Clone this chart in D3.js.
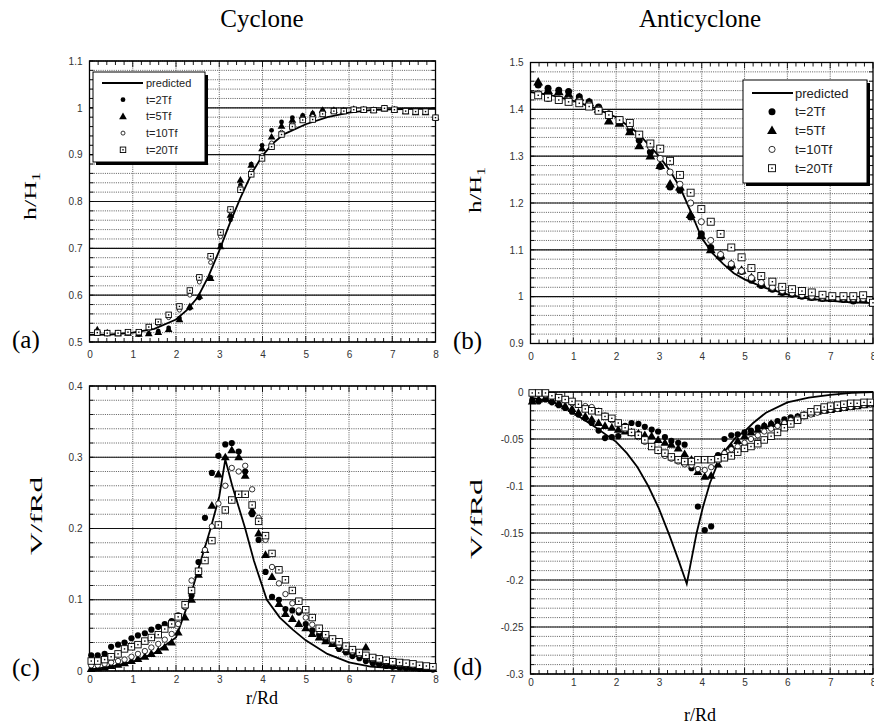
<!DOCTYPE html>
<html>
<head>
<meta charset="utf-8">
<script src="https://cdnjs.cloudflare.com/ajax/libs/d3/7.8.5/d3.min.js"></script>
<style>
  body { margin: 0; background: #fff; }
  svg { display: block; }
</style>
</head>
<body>
<svg id="fig" width="874" height="724"></svg>
<script>
// ---- data ----
var legendNames = ['t=2Tf', 't=5Tf', 't=10Tf', 't=20Tf'];

// radial stations used for the h/H1 panels
var radiusA = [0.18,0.41,0.66,0.89,1.14,1.37,1.59,1.83,2.08,2.32,2.54,2.8,3.03,3.26,3.49,3.74,3.99,4.21,4.44,4.69,4.93,5.16,5.39,5.65,5.88,6.11,6.34,6.57,6.82,7.05,7.31,7.54,7.77,8.0];
// radial stations used for the V/fRd panels
var radiusC = [0.04,0.19,0.35,0.5,0.66,0.81,0.97,1.12,1.28,1.43,1.59,1.74,1.9,2.05,2.21,2.36,2.52,2.67,2.83,2.98,3.14,3.29,3.45,3.6,3.76,3.91,4.07,4.22,4.38,4.53,4.69,4.84,5.0,5.15,5.31,5.46,5.62,5.77,5.93,6.08,6.24,6.39,6.55,6.7,6.86,7.01,7.17,7.32,7.48,7.63,7.79,7.94];

// (a) cyclone, h/H1
var predA_r = [0,0.5,1,1.5,2,2.25,2.5,2.75,3,3.25,3.5,3.75,4,4.25,4.5,5,5.5,6,6.5,7,7.5,8];
var predA_h = [0.515,0.516,0.52,0.528,0.548,0.568,0.595,0.64,0.695,0.755,0.81,0.86,0.898,0.925,0.944,0.965,0.98,0.99,0.995,0.997,0.998,0.998];
var hA2  = [0.518,0.517,0.518,0.519,0.516,0.518,0.523,0.53,0.551,0.572,0.594,0.638,0.707,0.761,0.835,0.88,0.92,0.952,0.97,0.979,0.984,0.988,0.995,0.995,0.994,0.997,0.996,0.995,0.998,0.996,0.992,0.99,0.991,0.98];
var hA5  = [0.526,0.52,0.518,0.519,0.517,0.518,0.521,0.527,0.548,0.576,0.598,0.636,0.704,0.771,0.846,0.878,0.913,0.938,0.961,0.974,0.982,0.988,0.995,0.995,0.994,0.997,0.996,0.995,0.998,0.996,0.992,0.99,0.99,0.98];
var hA10 = [0.519,0.518,0.518,0.52,0.52,0.528,0.538,0.552,0.568,0.6,0.628,0.67,0.725,0.778,0.83,0.865,0.898,0.925,0.948,0.965,0.977,0.982,0.99,0.994,0.994,0.997,0.997,0.996,0.999,0.996,0.993,0.99,0.99,0.978];
var hA20 = [0.52,0.519,0.519,0.521,0.521,0.532,0.543,0.558,0.576,0.61,0.638,0.683,0.734,0.783,0.825,0.858,0.892,0.917,0.943,0.96,0.974,0.975,0.987,0.993,0.993,0.996,0.996,0.995,0.999,0.996,0.993,0.992,0.992,0.979];

// (b) anticyclone, h/H1
var predB_r = [0,0.5,1,1.5,2,2.5,3,3.25,3.5,3.75,4,4.25,4.5,4.75,5,5.5,6,6.5,7,7.5,8];
var predB_h = [1.437,1.43,1.418,1.403,1.383,1.35,1.3,1.27,1.232,1.18,1.125,1.093,1.07,1.05,1.037,1.018,1.005,0.996,0.991,0.988,0.986];
var hB2  = [1.452,1.445,1.441,1.438,1.427,1.416,1.405,1.39,1.376,1.357,1.334,1.309,1.278,1.234,1.227,1.17,1.134,1.105,1.084,1.064,1.054,1.035,1.024,1.016,1.009,1.005,1.001,0.998,0.996,0.996,0.994,0.991,0.994,0.987];
var hB5  = [1.458,1.44,1.437,1.432,1.425,1.414,1.4,1.375,1.37,1.352,1.322,1.3,1.28,1.24,1.234,1.175,1.13,1.1,1.088,1.069,1.056,1.04,1.028,1.018,1.01,1.006,1.002,0.999,0.997,0.996,0.995,0.993,0.994,0.988];
var hB10 = [1.434,1.423,1.423,1.42,1.418,1.41,1.4,1.39,1.378,1.365,1.345,1.32,1.295,1.266,1.24,1.2,1.16,1.12,1.09,1.07,1.055,1.04,1.03,1.02,1.013,1.008,1.004,1.001,0.999,0.998,0.997,0.996,0.996,0.988];
var hB20 = [1.43,1.425,1.42,1.416,1.413,1.406,1.397,1.388,1.377,1.371,1.346,1.327,1.316,1.29,1.26,1.222,1.187,1.16,1.134,1.105,1.084,1.061,1.044,1.032,1.021,1.016,1.012,1.009,1.004,1.001,1.001,1.001,1.003,0.987];

// (c) cyclone, V/fRd
var predC_r = [0,0.5,1,1.5,2,2.3,2.5,2.8,3.0,3.14,3.3,3.6,3.8,4.1,4.4,4.7,5.0,5.5,6.0,6.5,7,7.5,8];
var predC_v = [0.002,0.006,0.013,0.025,0.047,0.098,0.14,0.2,0.245,0.297,0.26,0.2,0.155,0.1,0.075,0.058,0.043,0.024,0.012,0.006,0.004,0.003,0.002];
var vC2  = [0.022,0.022,0.024,0.034,0.037,0.04,0.046,0.05,0.053,0.058,0.062,0.066,0.07,0.078,0.09,0.106,0.153,0.215,0.278,0.302,0.318,0.32,0.308,0.28,0.22,0.184,0.139,0.104,0.1,0.087,0.085,0.082,0.066,0.057,0.051,0.043,0.038,0.031,0.026,0.021,0.018,0.014,0.011,0.009,0.007,0.006,0.005,0.004,0.004,0.003,0.003,0.002];
var vC5  = [0.003,0.004,0.005,0.007,0.009,0.011,0.014,0.017,0.02,0.024,0.028,0.033,0.04,0.054,0.075,0.1,0.135,0.17,0.232,0.276,0.3,0.31,0.3,0.274,0.225,0.193,0.163,0.132,0.094,0.08,0.073,0.066,0.06,0.052,0.047,0.042,0.038,0.035,0.03,0.027,0.024,0.033,0.016,0.012,0.01,0.008,0.007,0.006,0.005,0.004,0.003,0.003];
var vC10 = [0.008,0.008,0.01,0.012,0.014,0.016,0.02,0.024,0.028,0.033,0.038,0.044,0.052,0.066,0.09,0.127,0.14,0.17,0.203,0.235,0.26,0.285,0.28,0.288,0.255,0.215,0.184,0.146,0.123,0.108,0.095,0.085,0.075,0.065,0.056,0.048,0.042,0.036,0.031,0.027,0.023,0.02,0.017,0.015,0.013,0.011,0.01,0.009,0.008,0.007,0.006,0.005];
var vC20 = [0.014,0.014,0.016,0.02,0.024,0.031,0.034,0.037,0.042,0.047,0.051,0.059,0.066,0.076,0.093,0.113,0.14,0.155,0.183,0.205,0.226,0.24,0.248,0.248,0.233,0.21,0.19,0.165,0.142,0.128,0.113,0.098,0.086,0.075,0.06,0.051,0.045,0.041,0.035,0.03,0.026,0.022,0.019,0.017,0.015,0.013,0.012,0.011,0.01,0.008,0.007,0.006];

// (d) anticyclone, V/fRd
var predD_r = [0,0.5,1,1.5,2,2.25,2.5,2.75,3,3.25,3.45,3.65,3.76,3.88,4.03,4.19,4.38,4.57,4.8,5.0,5.2,5.5,6.0,6.5,7.0,7.5,8];
var predD_v = [-0.006,-0.01,-0.022,-0.037,-0.053,-0.065,-0.08,-0.1,-0.124,-0.153,-0.178,-0.204,-0.178,-0.15,-0.122,-0.097,-0.075,-0.061,-0.048,-0.042,-0.033,-0.022,-0.011,-0.006,-0.003,-0.001,0];
var vD2  = [-0.009,-0.01,-0.008,-0.011,-0.014,-0.017,-0.021,-0.024,-0.028,-0.033,-0.041,-0.049,-0.048,-0.047,-0.036,-0.033,-0.034,-0.037,-0.04,-0.042,-0.048,-0.052,-0.054,-0.056,-0.081,-0.122,-0.147,-0.143,-0.067,-0.05,-0.046,-0.045,-0.043,-0.041,-0.038,-0.036,-0.034,-0.031,-0.029,-0.027,-0.026,-0.024,-0.022,-0.02,-0.018,-0.018,-0.017,-0.016,-0.015,-0.014,-0.013,-0.013];
var vD5  = [-0.01,-0.008,-0.007,-0.009,-0.012,-0.015,-0.018,-0.022,-0.026,-0.029,-0.033,-0.036,-0.038,-0.04,-0.042,-0.043,-0.044,-0.046,-0.047,-0.051,-0.054,-0.056,-0.06,-0.066,-0.072,-0.085,-0.09,-0.089,-0.077,-0.064,-0.058,-0.052,-0.047,-0.043,-0.04,-0.036,-0.034,-0.033,-0.031,-0.029,-0.027,-0.025,-0.023,-0.021,-0.02,-0.019,-0.018,-0.017,-0.016,-0.015,-0.014,-0.013];
var vD10 = [-0.002,-0.002,-0.003,-0.005,-0.007,-0.009,-0.012,-0.014,-0.015,-0.016,-0.02,-0.025,-0.03,-0.034,-0.04,-0.044,-0.048,-0.053,-0.058,-0.063,-0.068,-0.071,-0.074,-0.077,-0.078,-0.082,-0.083,-0.08,-0.073,-0.065,-0.061,-0.058,-0.054,-0.05,-0.046,-0.042,-0.039,-0.036,-0.033,-0.03,-0.028,-0.026,-0.024,-0.022,-0.02,-0.019,-0.018,-0.017,-0.016,-0.015,-0.014,-0.013];
var vD20 = [-0.001,-0.001,-0.001,-0.004,-0.006,-0.008,-0.01,-0.013,-0.018,-0.02,-0.021,-0.026,-0.028,-0.033,-0.038,-0.043,-0.046,-0.051,-0.058,-0.062,-0.065,-0.069,-0.072,-0.074,-0.074,-0.072,-0.072,-0.072,-0.071,-0.07,-0.068,-0.064,-0.06,-0.058,-0.055,-0.051,-0.047,-0.043,-0.038,-0.034,-0.03,-0.025,-0.021,-0.018,-0.016,-0.015,-0.014,-0.013,-0.012,-0.012,-0.011,-0.011];

// tick labels
var xTicks = [0,1,2,3,4,5,6,7,8];
var yTicksA = [0.5,0.6,0.7,0.8,0.9,1,1.1];
var yTicksB = [0.9,1,1.1,1.2,1.3,1.4,1.5];
var yTicksC = [0,0.1,0.2,0.3,0.4];
var yTicksD = [-0.3,-0.25,-0.2,-0.15,-0.1,-0.05,0];

var svg = d3.select('#fig');
var serif = "'Liberation Serif', 'DejaVu Serif', serif";
var sans = "'Liberation Sans', Arial, sans-serif";

function fmt(d) { return String(+d.toFixed(2)); }

function steps(lo, hi, step) {
    var n = Math.round((hi - lo) / step);
    return d3.range(n + 1).map(function(i) { return +(lo + i * step).toFixed(4); });
}

function marker(g, kind, cx, cy, s) {
    if (kind === 'dot') {
        g.append('circle').attr('cx', cx).attr('cy', cy).attr('r', s.r).attr('fill', '#000');
    } else if (kind === 'ring') {
        g.append('circle').attr('cx', cx).attr('cy', cy).attr('r', s.r - 0.4)
            .attr('fill', '#fff').attr('stroke', '#000').attr('stroke-width', 0.8);
    } else if (kind === 'tri') {
        g.append('path').attr('d', d3.symbol(d3.symbolTriangle, s.tri)())
            .attr('transform', 'translate(' + cx + ',' + (cy + 0.5) + ')').attr('fill', '#000');
    } else {
        var h = s.box / 2;
        g.append('rect').attr('x', cx - h).attr('y', cy - h).attr('width', s.box).attr('height', s.box)
            .attr('fill', '#fff').attr('stroke', '#000').attr('stroke-width', 0.9);
        g.append('rect').attr('x', cx - 0.7).attr('y', cy - 0.7).attr('width', 1.4).attr('height', 1.4).attr('fill', '#000');
    }
}

function drawPanel(p) {
    var g = svg.append('g');
    var x = d3.scaleLinear().domain([0, 8]).range([p.left, p.right]);
    var y = d3.scaleLinear().domain(p.yDomain).range([p.bottom, p.top]);

    // dotted minor horizontals and integer verticals
    var grid = g.append('g').attr('stroke', '#333').attr('stroke-width', 0.8).attr('stroke-dasharray', '1,1.2');
    grid.selectAll('line.h').data(steps(p.yDomain[0], p.yDomain[1], p.minor)).enter().append('line')
        .attr('x1', p.left).attr('x2', p.right).attr('y1', function(d) { return y(d); }).attr('y2', function(d) { return y(d); });
    grid.selectAll('line.v').data(xTicks.slice(1, 8)).enter().append('line')
        .attr('y1', p.top).attr('y2', p.bottom).attr('x1', function(d) { return x(d); }).attr('x2', function(d) { return x(d); });
    // solid major horizontals
    g.append('g').selectAll('line').data(p.yTicks).enter().append('line')
        .attr('x1', p.left).attr('x2', p.right).attr('y1', function(d) { return y(d); }).attr('y2', function(d) { return y(d); })
        .attr('stroke', '#111').attr('stroke-width', 1.1);

    // inner tick marks
    var minorX = steps(0, 8, 0.2);
    var tk = g.append('g').attr('stroke', '#000').attr('stroke-width', 0.9);
    tk.selectAll('line.b').data(minorX).enter().append('line')
        .attr('x1', function(d) { return x(d); }).attr('x2', function(d) { return x(d); })
        .attr('y1', p.bottom).attr('y2', function(d) { return p.bottom - (Number.isInteger(d) ? 6 : 4); });
    tk.selectAll('line.t').data(minorX).enter().append('line')
        .attr('x1', function(d) { return x(d); }).attr('x2', function(d) { return x(d); })
        .attr('y1', p.top).attr('y2', function(d) { return p.top + (Number.isInteger(d) ? 6 : 4); });
    var minorY = steps(p.yDomain[0], p.yDomain[1], p.minor);
    tk.selectAll('line.l').data(minorY).enter().append('line')
        .attr('y1', function(d) { return y(d); }).attr('y2', function(d) { return y(d); })
        .attr('x1', p.left).attr('x2', p.left + 4);
    tk.selectAll('line.r').data(minorY).enter().append('line')
        .attr('y1', function(d) { return y(d); }).attr('y2', function(d) { return y(d); })
        .attr('x1', p.right).attr('x2', p.right - 4);

    g.append('rect').attr('x', p.left).attr('y', p.top)
        .attr('width', p.right - p.left).attr('height', p.bottom - p.top)
        .attr('fill', 'none').attr('stroke', '#000').attr('stroke-width', 1.3);

    // axes (labels only)
    var ax = g.append('g').attr('transform', 'translate(0,' + p.bottom + ')')
        .call(d3.axisBottom(x).tickValues(xTicks).tickSize(0).tickPadding(p.xPad).tickFormat(fmt));
    var ay = g.append('g').attr('transform', 'translate(' + p.left + ',0)')
        .call(d3.axisLeft(y).tickValues(p.yTicks).tickSize(0).tickPadding(7).tickFormat(fmt));
    [ax, ay].forEach(function(a) {
        a.select('.domain').remove();
        a.attr('font-family', sans).attr('font-size', 10);
        a.selectAll('text').attr('fill', '#333');
    });

    // predicted curve
    var line = d3.line().x(function(d) { return x(d[0]); }).y(function(d) { return y(d[1]); });
    g.append('path').datum(d3.zip(p.predR, p.predV)).attr('d', line)
        .attr('fill', 'none').attr('stroke', '#000').attr('stroke-width', 1.8);

    // measured series
    var kinds = ['dot', 'tri', 'ring', 'box'];
    p.series.forEach(function(vals, k) {
        var sg = g.append('g');
        vals.forEach(function(v, i) { marker(sg, kinds[k], x(p.radius[i]), y(v), p.mk); });
    });

    // legend
    if (p.legend) {
        var L = p.legend;
        var lg = g.append('g');
        lg.append('rect').attr('x', L.x + 3).attr('y', L.y + 3).attr('width', L.w).attr('height', L.h).attr('fill', '#000');
        lg.append('rect').attr('x', L.x).attr('y', L.y).attr('width', L.w).attr('height', L.h)
            .attr('fill', '#fff').attr('stroke', '#000').attr('stroke-width', 1);
        var rows = ['predicted'].concat(legendNames);
        rows.forEach(function(name, i) {
            var cy = L.y0 + i * L.dy;
            if (i === 0) {
                lg.append('line').attr('x1', L.lx0).attr('x2', L.lx1).attr('y1', cy).attr('y2', cy)
                    .attr('stroke', '#000').attr('stroke-width', 2);
            } else {
                marker(lg, kinds[i - 1], L.mx, cy, L.mk);
            }
            lg.append('text').attr('x', L.tx).attr('y', cy + L.fs * 0.36).text(name)
                .attr('font-family', sans).attr('font-size', L.fs).attr('fill', '#222');
        });
    }

    // panel tag and axis label
    g.append('text').attr('x', p.tag[0]).attr('y', p.tag[1]).text(p.tagText)
        .attr('font-family', serif).attr('font-size', 25);
    var yl = g.append('text').attr('transform', 'translate(' + p.ylab[0] + ',' + p.ylab[1] + ') rotate(-90)')
        .attr('text-anchor', 'middle').attr('font-family', serif).attr('font-size', 17)
        .attr('textLength', p.ylab[2]).attr('lengthAdjust', 'spacingAndGlyphs');
    if (p.ylabSub) {
        yl.append('tspan').text(p.ylabText);
        yl.append('tspan').text(p.ylabSub).attr('font-size', 12).attr('dy', 4);
    } else {
        yl.text(p.ylabText);
    }
    if (p.xlab) {
        g.append('text').attr('x', p.xlab[0]).attr('y', p.xlab[1]).attr('text-anchor', 'middle')
            .attr('font-family', serif).attr('font-size', 18).text('r/Rd');
    }
}

var smallMk = { r: 2.4, tri: 26, box: 5.5 };
var bigMk = { r: 3.5, tri: 42, box: 7 };
var midMk = { r: 3.1, tri: 34, box: 6.5 };

drawPanel({
    left: 89.5, right: 435.5, top: 61, bottom: 342, yDomain: [0.5, 1.1], minor: 0.02, yTicks: yTicksA, xPad: 9,
    predR: predA_r, predV: predA_h, radius: radiusA, series: [hA2, hA5, hA10, hA20], mk: smallMk,
    legend: { x: 93, y: 72, w: 112, h: 90, y0: 83, dy: 16.7, lx0: 102, lx1: 143, mx: 123, tx: 146, fs: 11, mk: smallMk },
    tag: [12, 348], tagText: '(a)', ylab: [36, 196, 48], ylabText: 'h/H', ylabSub: '1'
});
drawPanel({
    left: 530.5, right: 873, top: 62.5, bottom: 343.5, yDomain: [0.9, 1.5], minor: 0.02, yTicks: yTicksB, xPad: 9,
    predR: predB_r, predV: predB_h, radius: radiusA, series: [hB2, hB5, hB10, hB20], mk: bigMk,
    legend: { x: 743, y: 80, w: 124, h: 103, y0: 93, dy: 18.8, lx0: 752, lx1: 793, mx: 772, tx: 795, fs: 13, mk: bigMk },
    tag: [453, 349], tagText: '(b)', ylab: [481, 190, 46], ylabText: 'h/H', ylabSub: '1'
});
drawPanel({
    left: 89.5, right: 435.5, top: 386, bottom: 671, yDomain: [0, 0.4], minor: 0.02, yTicks: yTicksC, xPad: 5,
    predR: predC_r, predV: predC_v, radius: radiusC, series: [vC2, vC5, vC10, vC20], mk: midMk,
    tag: [12, 676], tagText: '(c)', ylab: [42, 516, 78], ylabText: 'V/fRd', xlab: [262, 704]
});
drawPanel({
    left: 530.5, right: 873, top: 392, bottom: 674, yDomain: [-0.3, 0], minor: 0.01, yTicks: yTicksD, xPad: 5,
    predR: predD_r, predV: predD_v, radius: radiusC, series: [vD2, vD5, vD10, vD20], mk: midMk,
    tag: [453, 675], tagText: '(d)', ylab: [482, 519, 80], ylabText: 'V/fRd', xlab: [700, 721]
});

// column titles
svg.append('text').attr('x', 262).attr('y', 27).attr('text-anchor', 'middle')
    .attr('font-family', serif).attr('font-size', 25).text('Cyclone');
svg.append('text').attr('x', 700).attr('y', 27).attr('text-anchor', 'middle')
    .attr('font-family', serif).attr('font-size', 25).text('Anticyclone');
</script>
</body>
</html>
